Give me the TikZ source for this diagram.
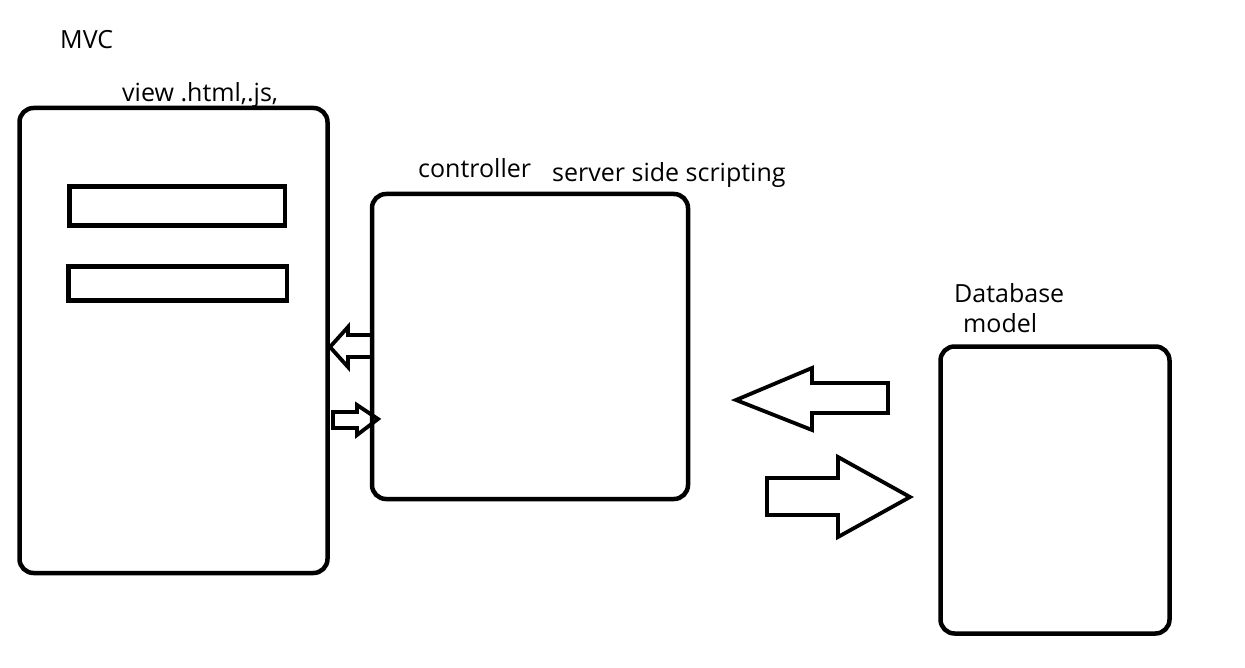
\documentclass[tikz,border=0pt]{standalone}
\usepackage{fontspec}
\setmainfont{Open Sans}
\begin{document}
\begin{tikzpicture}[x=1pt,y=-1pt,
  box/.style={draw=black,line width=4.5pt,rounded corners=14pt,inner sep=0pt,fill=none},
  field/.style={draw=black,line width=4.5pt,inner sep=0pt},
  blockarrow/.style={draw=black,line width=3.8pt,line join=miter,fill=none},
  lbl/.style={inner sep=0pt,anchor=base west,font=\fontsize{25}{30}\selectfont}]
\useasboundingbox (0,0) rectangle (1245,668);
% boxes
\node[box,minimum width=308pt,minimum height=465pt] (view) at (173.5,340.5) {};
\node[box,minimum width=316pt,minimum height=305pt] (ctrl) at (530,346.5) {};
\node[box,minimum width=229pt,minimum height=287pt] (db) at (1055,490) {};
% input fields inside view
\node[field,minimum width=215.5pt,minimum height=39pt] (f1) at (177.25,206) {};
\node[field,minimum width=218.5pt,minimum height=34pt] (f2) at (177.75,283.5) {};
% labels
\node[lbl] (mvc) at (60,49) {MVC};
\node[lbl] (viewlbl) at (122,102) {view .html,.js,};
\node[lbl] (ctrllbl) at (418,178) {controller};
\node[lbl] (ssslbl) at (552,182) {server side scripting};
\node[lbl] (dblbl) at (954,303) {Database};
\node[lbl] (modellbl) at (963,333) {model};
% small block arrows between view and controller
\draw[blockarrow] (372,335) -- (348,335) -- (348,327) -- (330,347) -- (348,367) -- (348,357) -- (372,357);
\draw[blockarrow] (333,412) -- (357,412) -- (357,405) -- (378,419) -- (357,435) -- (357,428) -- (333,428) -- cycle;
% big block arrows between controller and database
\draw[blockarrow] (888,383) -- (812,383) -- (812,368) -- (736,400) -- (812,430) -- (812,413) -- (888,413) -- cycle;
\draw[blockarrow] (767,478) -- (838,478) -- (838,457) -- (910,497) -- (838,537) -- (838,515) -- (767,515) -- cycle;
\end{tikzpicture}
\end{document}
